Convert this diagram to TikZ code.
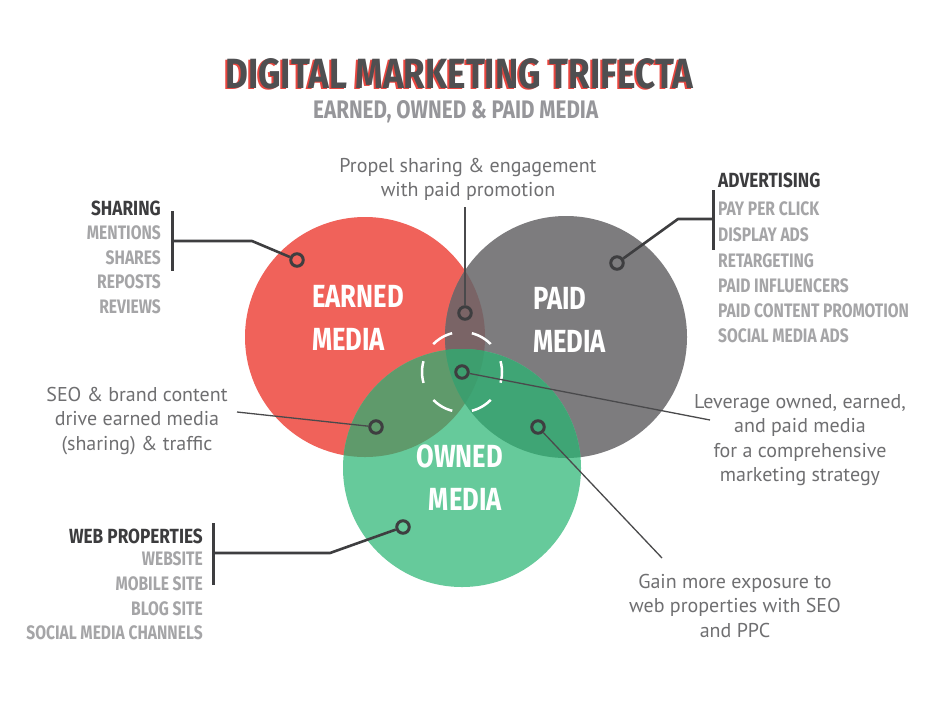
\documentclass[tikz,border=0pt]{standalone}
\usepackage{fontspec}
\setmainfont{PT Sans}
\newfontfamily\condfont[FakeStretch=0.8]{Fira Sans}
\newfontfamily\condhead[FakeStretch=0.84]{Fira Sans}
\usepackage{graphicx}
\definecolor{redc}{HTML}{F0625A}
\definecolor{grayc}{HTML}{7D7C7E}
\definecolor{greenc}{HTML}{66CA9B}
\definecolor{rgc}{HTML}{7A6466}
\definecolor{regc}{HTML}{5F9A6B}
\definecolor{grgc}{HTML}{3FA575}
\definecolor{triplec}{HTML}{3D9E6E}
\definecolor{linedark}{HTML}{3E3E40}
\definecolor{leadc}{HTML}{4A4A4C}
\definecolor{bodytxt}{HTML}{6F6F71}
\definecolor{itemtxt}{HTML}{A5A5A7}
\definecolor{headtxt}{HTML}{3C3C3E}
\definecolor{titletxt}{HTML}{4F4F51}
\definecolor{titlered}{HTML}{E8463F}
\definecolor{subtxt}{HTML}{96969A}
\newcommand{\bodylines}[1]{\begin{tabular}[t]{@{}c@{}}#1\end{tabular}}
\newcommand{\titletext}{\resizebox{468pt}{30pt}{\condfont\bfseries DIGITAL MARKETING TRIFECTA}}
\begin{document}
\begin{tikzpicture}[x=1pt,y=-1pt,
  body/.style={font=\fontsize{20}{24.5}\selectfont, text=bodytxt, inner sep=0},
  headtext/.style={font=\condhead\bfseries\fontsize{20.5}{20.5}\selectfont, text=headtxt, inner sep=0},
  itemtext/.style={font=\condfont\bfseries\fontsize{19.5}{19.5}\selectfont, text=itemtxt, inner sep=0},
  circlbl/.style={font=\condfont\bfseries\fontsize{32}{32}\selectfont, text=white, inner sep=0},
  ringmark/.style={circle, draw=linedark, line width=3pt, minimum size=12.5pt, inner sep=0},
  barline/.style={draw=linedark, line width=3pt},
  elbow/.style={draw=linedark, line width=2.6pt, line join=round},
  leader/.style={draw=leadc, line width=1.3pt}]
\useasboundingbox (0,0) rectangle (952,702);
\fill[white] (0,0) rectangle (952,702);

% circles
\fill[redc] (365,337) circle (120pt);
\fill[grayc] (566,337) circle (121pt);
\fill[greenc] (462,468) circle (119pt);
\begin{scope}
  \clip (365,337) circle (120pt);
  \fill[rgc] (566,337) circle (121pt);
  \fill[regc] (462,468) circle (119pt);
\end{scope}
\begin{scope}
  \clip (566,337) circle (121pt);
  \fill[grgc] (462,468) circle (119pt);
  \clip (365,337) circle (120pt);
  \fill[triplec] (462,468) circle (119pt);
\end{scope}

% dashed ring
\draw[white, line width=2.5pt, dash pattern=on 22pt off 19.9pt, dash phase=11pt] (462,372) circle (40pt);

% title (with red offset shadow) and subtitle
\node[anchor=base west, inner sep=0, text=titletxt] (title) at (225,88)
  {\makebox[0pt][l]{\hspace*{-2pt}\raisebox{-1.5pt}[0pt][0pt]{\color{titlered}\titletext}}\titletext};
\node[anchor=base west, inner sep=0, text=subtxt] (subtitle) at (313,118)
  {\resizebox{285pt}{18pt}{\condfont\bfseries EARNED, OWNED \& PAID MEDIA}};

% circle labels
\node[circlbl, anchor=base west] (earned1) at (312,307) {EARNED};
\node[circlbl, anchor=base west] (earned2) at (312,350) {MEDIA};
\node[circlbl, anchor=base west] (paid1) at (533,309) {PAID};
\node[circlbl, anchor=base west] (paid2) at (533,352) {MEDIA};
\node[circlbl, anchor=base east] (owned1) at (503,467) {OWNED};
\node[circlbl, anchor=base east] (owned2) at (502,510) {MEDIA};

% markers
\node[ringmark] (mshare) at (297,260) {};
\node[ringmark] (mpaid) at (617,263) {};
\node[ringmark] (mtop) at (465,313) {};
\node[ringmark] (mcenter) at (462,372) {};
\node[ringmark] (mleft) at (376,427) {};
\node[ringmark] (mright) at (538,427) {};
\node[ringmark] (mowned) at (403,527) {};

% sharing list
\node[headtext, anchor=base east] (sharing) at (161,215) {SHARING};
\foreach \t/\yy [count=\i] in {MENTIONS/239, SHARES/264, REPOSTS/288, REVIEWS/313}
  \node[itemtext, anchor=base east] (shitem\i) at (161,\yy) {\t};
\coordinate (shbt) at (172,211);
\coordinate (shbb) at (172,271);
\coordinate (shj) at (172,241);
\coordinate (shk) at (252,241);
\draw[barline] (shbt) -- (shbb);
\draw[elbow] (shj) -- (shk) -- (mshare);

% advertising list
\node[headtext, anchor=base west] (advertising) at (718,187) {ADVERTISING};
\foreach \t/\yy [count=\i] in {PAY PER CLICK/215, DISPLAY ADS/241, RETARGETING/267, PAID INFLUENCERS/292, PAID CONTENT PROMOTION/317, SOCIAL MEDIA ADS/342}
  \node[itemtext, anchor=base west] (aditem\i) at (718,\yy) {\t};
\coordinate (adbt) at (713,190);
\coordinate (adbb) at (713,250);
\coordinate (adj) at (713,219);
\coordinate (adk) at (678,219);
\draw[barline] (adbt) -- (adbb);
\draw[elbow] (adj) -- (adk) -- (mpaid);

% web properties list
\node[headtext, anchor=base east] (webprop) at (203,543) {WEB PROPERTIES};
\foreach \t/\yy [count=\i] in {WEBSITE/565, MOBILE SITE/590, BLOG SITE/615, SOCIAL MEDIA CHANNELS/639}
  \node[itemtext, anchor=base east] (webitem\i) at (203,\yy) {\t};
\coordinate (wbbt) at (213,523);
\coordinate (wbbb) at (213,585);
\coordinate (wbj) at (213,553);
\coordinate (wbk) at (330,553);
\draw[barline] (wbbt) -- (wbbb);
\draw[elbow] (wbj) -- (wbk) -- (mowned);

% body texts and leaders
\node[body, anchor=base] (propel) at (468,172) {\bodylines{Propel sharing \& engagement\\with paid promotion}};
\coordinate (propelend) at (465,207);
\draw[leader] (propelend) -- (mtop);

\node[body, anchor=base] (seo) at (137,401) {\bodylines{SEO \& brand content\\drive earned media\\(sharing) \& traffic}};
\coordinate (seoend) at (237,412);
\draw[leader] (seoend) -- (mleft);

\node[body, anchor=base] (leverage) at (800,408) {\bodylines{Leverage owned, earned,\\and paid media\\for a comprehensive\\marketing strategy}};
\coordinate (levend) at (710,420);
\draw[leader] (mcenter) -- (levend);

\node[body, anchor=base] (gain) at (735,588) {\bodylines{Gain more exposure to\\web properties with SEO\\and PPC}};
\coordinate (gainend) at (662,558);
\draw[leader] (mright) -- (gainend);
\end{tikzpicture}
\end{document}
